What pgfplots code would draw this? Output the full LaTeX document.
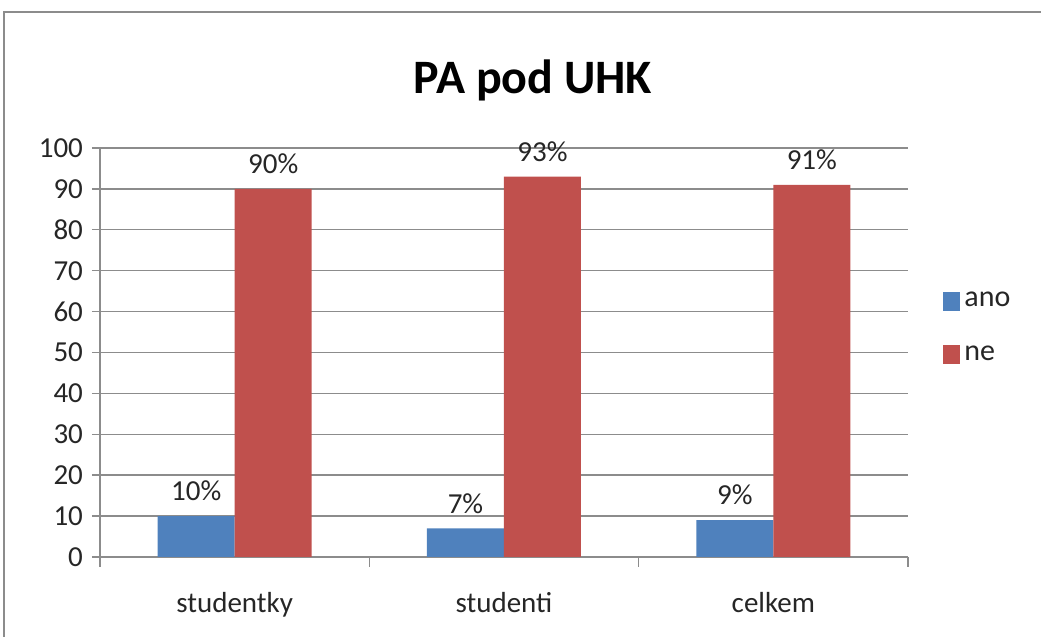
\documentclass[border=0pt]{standalone}
\usepackage{pgfplots}
\pgfplotsset{compat=1.18}
\usepackage{fontspec}
\setmainfont{Carlito}
\definecolor{cblue}{HTML}{4F81BD}
\definecolor{cred}{HTML}{C0504D}
\definecolor{gridc}{HTML}{8C8C8C}
\begin{document}
\begin{tikzpicture}
\useasboundingbox (0,0) rectangle (520.5pt,318.5pt);
\draw[line width=1.2pt, color=gridc] (2pt,0pt) -- (2pt,312.5pt) -- (520.5pt,312.5pt);
\node[font=\fontsize{24}{28}\selectfont\bfseries] at (266.5pt,278.5pt) {PA pod UHK};
\begin{axis}[
  at={(50pt,40pt)}, anchor=south west,
  width=404pt, height=204.5pt, scale only axis,
  ybar=0pt, bar width=38.5pt,
  xmin=-0.5, xmax=2.5, ymin=0, ymax=100,
  xtick={0,1,2}, xticklabels={studentky,studenti,celkem},
  minor xtick={-0.5,0.5,1.5,2.5},
  major x tick style={draw=none},
  minor x tick style={draw=gridc, line width=0.7pt},
  minor tick length=5pt,
  ytick={0,10,...,100},
  tick align=outside, major tick length=4pt,
  y tick style={draw=gridc, line width=0.7pt},
  ymajorgrids, grid style={draw=gridc, line width=0.7pt},
  axis x line*=bottom, axis y line*=left,
  axis line style={draw=gridc, line width=0.7pt, -},
  tick label style={font=\fontsize{14.5}{17}\selectfont, text=black!85},
  xticklabel style={yshift=-10pt},
  yticklabel style={xshift=-1pt},
  /pgf/number format/assume math mode=true,
  nodes near coords={\pgfmathprintnumber{\pgfplotspointmeta}\%},
  nodes near coords style={font=\fontsize{14.5}{17}\selectfont, text=black!85, yshift=4pt},
  legend style={draw=none, fill=none, at={(1.036,0.56)}, anchor=west,
    font=\fontsize{15}{18}\selectfont, row sep=14pt, text=black!85},
  legend cell align=left,
  legend image code/.code={\fill[#1] (0pt,-4.8pt) rectangle (8.5pt,4.8pt);},
]
\addplot[fill=cblue, draw=none] coordinates {(0,10) (1,7) (2,9)};
\addplot[fill=cred, draw=none] coordinates {(0,90) (1,93) (2,91)};
\legend{ano,ne}
\end{axis}
\end{tikzpicture}
\end{document}
